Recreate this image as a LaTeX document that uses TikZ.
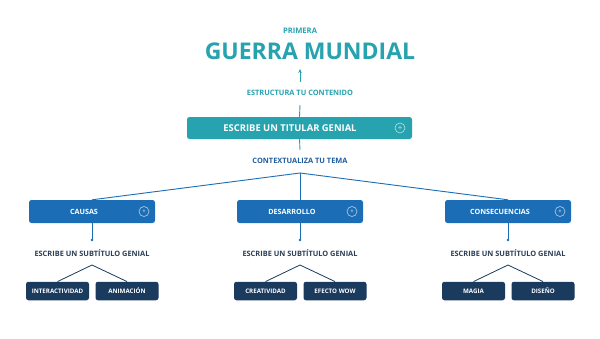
\documentclass[tikz,border=0pt]{standalone}
\usepackage{fontspec}
\setmainfont{Open Sans}[BoldFont={* Bold}]
\usetikzlibrary{arrows.meta}
\definecolor{teal}{HTML}{26A3AF}
\definecolor{midblue}{HTML}{1B6DB5}
\definecolor{navy}{HTML}{1A3A5E}
\definecolor{ctxblue}{HTML}{1F5E9E}
\definecolor{slate}{HTML}{2B3F55}
\tikzset{
  lbl/.style={font=\bfseries\fontsize{7.4}{8}\selectfont, inner sep=0pt},
  mainbox/.style={fill=midblue, rounded corners=2.5pt, minimum width=126pt, minimum height=23pt, inner sep=0pt},
  leafbox/.style={fill=navy, rounded corners=2.5pt, minimum width=63pt, minimum height=18.5pt, inner sep=0pt, text=white, font=\bfseries\fontsize{6.2}{7}\selectfont},
  plus/.style={circle, draw=white!60!midblue, line width=0.7pt, minimum size=10pt, inner sep=0pt},
  bl/.style={draw=midblue, line width=0.9pt},
  nl/.style={draw=navy, line width=0.8pt},
}
\begin{document}
\begin{tikzpicture}[x=1pt,y=-1pt]
\useasboundingbox[fill=white] (0,0) rectangle (600,338);
% title
\node[inner sep=0pt, text=teal, font=\bfseries\fontsize{7.6}{8}\selectfont] (primera) at (300,31) {PRIMERA};
\node[inner sep=0pt, text=teal, font=\bfseries\fontsize{23}{26}\selectfont] (guerra) at (310,51) {GUERRA MUNDIAL};
\node[lbl, text=teal] (estr) at (300,93) {ESTRUCTURA TU CONTENIDO};
\coordinate (arrtop) at (300,69);
\coordinate (arrbot) at (300,82);
\draw[teal, line width=0.9pt, -{Stealth[length=4pt,width=3.5pt]}] (arrbot) -- (arrtop);
% title box
\node[fill=teal, rounded corners=2.5pt, minimum width=225pt, minimum height=22pt, inner sep=0pt] (tbox) at (299.5,128) {};
\node[text=white, font=\bfseries\fontsize{9.4}{10}\selectfont, inner sep=0pt] (ttext) at (290,128) {ESCRIBE UN TITULAR GENIAL};
\node[circle, draw=white!60!teal, line width=0.7pt, minimum size=10pt, inner sep=0pt] (tplus) at (400,128) {};
\node[text=white!60!teal, font=\bfseries\fontsize{7}{7}\selectfont, inner sep=0pt] at (tplus) {+};
\coordinate (tl1) at (300,105);
\draw[teal, line width=0.9pt] (tl1) -- (tbox.north);
\node[lbl, text=ctxblue] (ctx) at (300,161) {CONTEXTUALIZA TU TEMA};
\coordinate (ctxlow) at (300,150);
\draw[teal, line width=0.9pt] (tbox.south) -- (ctxlow);
\coordinate (apex) at (300,173);
% three branches
\foreach \n/\x/\t in {a/92/CAUSAS, b/300/DESARROLLO, c/508/CONSECUENCIAS}{
  \node[mainbox] (box\n) at (\x,211.5) {};
  \node[text=white, font=\bfseries\fontsize{7.2}{8}\selectfont, inner sep=0pt] at (\x-8,211.5) {\t};
  \node[plus] (plus\n) at (\x+52,211.5) {};
  \node[text=white!60!midblue, font=\bfseries\fontsize{6}{6}\selectfont, inner sep=0pt] at (plus\n) {+};
  \draw[bl] (apex) -- (box\n.north);
  \coordinate (dot\n) at (\x,240);
  \draw[bl] (box\n.south) -- (dot\n);
  \fill[midblue] (dot\n) circle (1.3pt);
  \node[lbl, text=slate] (sub\n) at (\x,253) {ESCRIBE UN SUBTÍTULO GENIAL};
  \coordinate (sapex\n) at (\x,265);
}
\node[leafbox] (l1) at (57.5,291) {INTERACTIVIDAD};
\node[leafbox] (l2) at (127,291) {ANIMACIÓN};
\node[leafbox] (l3) at (265.5,291) {CREATIVIDAD};
\node[leafbox] (l4) at (335,291) {EFECTO WOW};
\node[leafbox] (l5) at (473.5,291) {MAGIA};
\node[leafbox] (l6) at (543,291) {DISEÑO};
\draw[nl] (l1.north) -- (sapexa) -- (l2.north);
\draw[nl] (l3.north) -- (sapexb) -- (l4.north);
\draw[nl] (l5.north) -- (sapexc) -- (l6.north);
\end{tikzpicture}
\end{document}
